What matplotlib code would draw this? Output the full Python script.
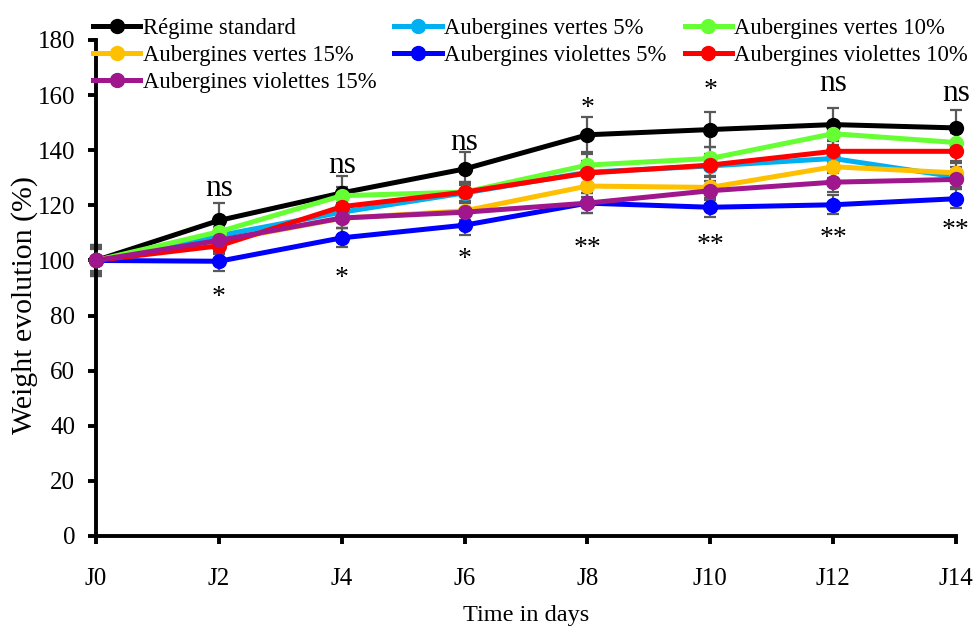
import matplotlib
matplotlib.use("Agg")
import matplotlib.pyplot as plt

days = [0, 2, 4, 6, 8, 10, 12, 14]
day_labels = ["J0", "J2", "J4", "J6", "J8", "J10", "J12", "J14"]

names = ["Régime standard", "Aubergines vertes 5%", "Aubergines vertes 10%",
         "Aubergines vertes 15%", "Aubergines violettes 5%",
         "Aubergines violettes 10%", "Aubergines violettes 15%"]
colors = ["#000000", "#00B0F0", "#66FF33", "#FFC000", "#0000FF", "#FF0000", "#A0168C"]

standard = [100, 114.5, 124.5, 133.2, 145.6, 147.5, 149.3, 148.1]
vertes5 = [100, 109.0, 117.5, 124.5, 132.0, 134.3, 137.0, 130.3]
vertes10 = [100, 110.4, 123.5, 124.8, 134.6, 137.0, 146.0, 142.8]
vertes15 = [100, 107.0, 115.3, 118.0, 127.0, 126.5, 134.0, 131.8]
violettes5 = [100, 99.7, 108.2, 112.8, 120.8, 119.3, 120.2, 122.4]
violettes10 = [100, 105.3, 119.5, 124.8, 131.7, 134.6, 139.6, 139.6]
violettes15 = [100, 107.3, 115.4, 117.5, 120.8, 125.3, 128.4, 129.4]

err_standard = [5.5, 6.3, 6.0, 6.0, 6.4, 6.4, 6.0, 6.4]
err_vertes5 = [4.5, 3.0, 3.5, 3.5, 4.0, 4.0, 4.0, 3.5]
err_vertes10 = [5.0, 3.0, 3.0, 3.5, 4.0, 4.0, 4.0, 3.5]
err_vertes15 = [4.0, 3.0, 3.5, 3.5, 4.0, 4.0, 4.0, 3.5]
err_violettes5 = [5.5, 3.5, 3.5, 3.5, 3.5, 3.5, 3.5, 3.5]
err_violettes10 = [4.5, 3.0, 3.5, 3.5, 4.0, 4.0, 4.0, 3.5]
err_violettes15 = [5.0, 3.0, 3.5, 3.5, 3.5, 3.5, 3.5, 3.5]

above_labels = ["", "ns", "ns", "ns", "*", "*", "ns", "ns"]
above_y = [None, 126, 134.6, 142.7, 155, 161.6, 164.3, 160.6]
below_labels = ["", "*", "*", "*", "**", "**", "**", "**"]
below_y = [None, 86.5, 93.5, 100.5, 104.5, 105.5, 108.0, 111.0]

series = [standard, vertes5, vertes10, vertes15, violettes5, violettes10, violettes15]
errors = [err_standard, err_vertes5, err_vertes10, err_vertes15,
          err_violettes5, err_violettes10, err_violettes15]

plt.rcParams['font.family'] = ['Liberation Serif', 'DejaVu Serif']

fig = plt.figure(figsize=(9.74, 6.28), dpi=100)
ax = fig.add_axes([96/974, 1-536/628, (956-96)/974, (536-40)/628])

handles = []
for vals, errs in zip(series, errors):
    ax.errorbar(days, vals, yerr=errs, fmt='none', ecolor='#595959',
                elinewidth=1.6, capsize=4, capthick=1.6, zorder=2, clip_on=False)
for vals, col, name in zip(series, colors, names):
    h, = ax.plot(days, vals, color=col, lw=3.6, marker='o', markersize=10,
                 label=name, zorder=3, clip_on=False)
    handles.append(h)

for d, t, y in zip(days, above_labels, above_y):
    if t:
        ax.text(d, y, t, ha='center', va='center', fontsize=22.5 if t == 'ns' else 20)
for d, t, y in zip(days, below_labels, below_y):
    if t:
        ax.text(d, y, t, ha='center', va='center', fontsize=20)

ax.set_xlim(0, 14)
ax.set_ylim(0, 180)
ax.set_xticks(days)
ax.set_xticklabels(day_labels)
ax.set_yticks(range(0, 181, 20))
for s in ['top', 'right']:
    ax.spines[s].set_visible(False)
for s in ['left', 'bottom']:
    ax.spines[s].set_linewidth(2.8)
ax.tick_params(axis='both', labelsize=18, width=2.8, length=6)
ax.tick_params(axis='x', pad=17)
ax.tick_params(axis='y', pad=9)
ax.set_ylabel("Weight evolution (%)", fontsize=21.5)
ax.yaxis.set_label_coords((38-96)/860, (536-305)/496)
ax.set_xlabel("Time in days", fontsize=17.5, labelpad=11)

order = [0, 3, 6, 1, 4, 2, 5]
leg = fig.legend([handles[i] for i in order], [names[i] for i in order],
                 ncol=3, loc='upper left', bbox_to_anchor=(77/974, 0.997),
                 frameon=False, fontsize=16.3, handlelength=2.1, handletextpad=0.1,
                 columnspacing=0.8, labelspacing=0.26, borderpad=0.2)

fig.savefig("out.png", dpi=100)
